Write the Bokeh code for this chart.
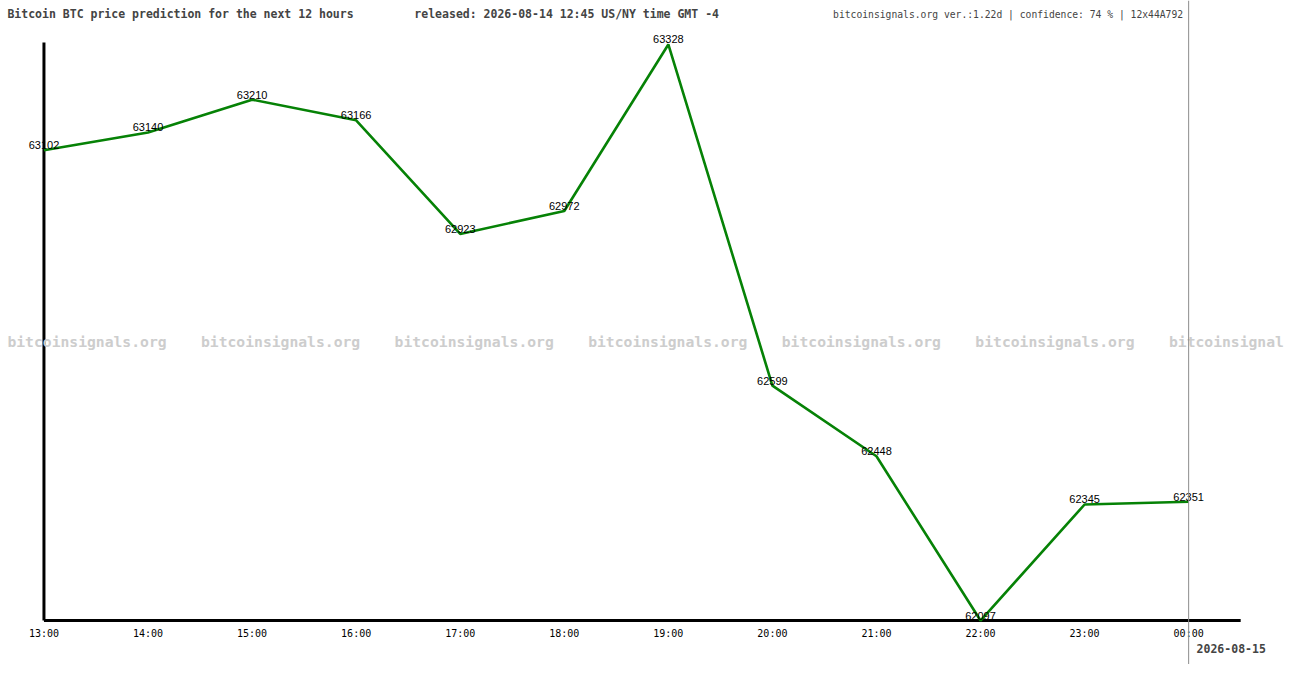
from bokeh.plotting import figure
from bokeh.models import Range1d, Label, Span, ColumnDataSource
from bokeh.core.properties import value
from bokeh.embed import file_html
from bokeh.resources import INLINE

# ---- data ----
hours = ["13:00", "14:00", "15:00", "16:00", "17:00", "18:00",
         "19:00", "20:00", "21:00", "22:00", "23:00", "00:00"]
prices = [63102, 63140, 63210, 63166, 62923, 62972,
          63328, 62599, 62448, 62097, 62345, 62351]
title_left = "Bitcoin BTC price prediction for the next 12 hours"
title_mid = "released: 2026-08-14 12:45 US/NY time GMT -4"
title_right = "bitcoinsignals.org ver.:1.22d | confidence: 74 % | 12x44A792"
next_day = "2026-08-15"
watermark = "bitcoinsignals.org"

W, H = 1284, 664
SX, SY = W / 1300.0, H / 680.0
xs = list(range(len(hours)))
px_per_hour = 105.36 * SX
x0_px = 44.0 * SX
ymax, ymin = max(prices), min(prices)
y_top_px, y_bot_px = 45.0 * SY, 635.0 * SY
upp = (ymax - ymin) / (y_bot_px - y_top_px)

p = figure(width=W, height=H, output_backend="svg", toolbar_location=None,
           x_axis_type=None, y_axis_type=None, min_border=0,
           x_range=Range1d(-x0_px / px_per_hour, (W - x0_px) / px_per_hour),
           y_range=Range1d(ymin - (H - y_bot_px) * upp, ymax + y_top_px * upp))
p.grid.visible = False
p.outline_line_color = None
p.background_fill_color = "white"
p.border_fill_color = "white"

MONO = "DejaVu Sans Mono"


def sx(v):
    return v * SX


def sy(v):
    return H - v * SY


# watermarks
for i in range(7):
    p.add_layout(Label(x=sx(7 + 196 * i), y=sy(349), x_units="screen", y_units="screen",
                       text=watermark, text_font=MONO, text_font_style="bold",
                       text_font_size="14.7px", text_color="#cdcdcd",
                       text_baseline="middle", text_align="left"))

# gray vertical line at last hour
p.add_layout(Span(location=xs[-1], dimension="height", line_color="#8c8c8c", line_width=1))

# axes lines
p.segment(x0=[0, 0], y0=[ymin, ymin], x1=[0, 11.5], y1=[ymax + 4, ymin],
          line_color="black", line_width=3)

# price line
src = ColumnDataSource(dict(x=xs, y=prices, lab=[str(v) for v in prices]))
p.line("x", "y", source=src, line_color="#068206", line_width=2.6)

# value labels
p.text("x", "y", text="lab", source=src, text_font=value("Liberation Sans"),
       text_font_size="11px", text_color="black", text_align="center",
       text_baseline="alphabetic", y_offset=-5)

# hour tick labels
tsrc = ColumnDataSource(dict(x=xs, y=[ymin] * len(xs), h=hours))
p.text("x", "y", text="h", source=tsrc, text_font=value(MONO), text_font_size="10px",
       text_color="black", text_align="center", text_baseline="middle", y_offset=13)

# header texts
p.add_layout(Label(x=sx(7), y=sy(14), x_units="screen", y_units="screen", text=title_left,
                   text_font=MONO, text_font_style="bold", text_font_size="11.5px",
                   text_baseline="middle"))
p.add_layout(Label(x=sx(419), y=sy(14), x_units="screen", y_units="screen", text=title_mid,
                   text_font=MONO, text_font_style="bold", text_font_size="11.5px",
                   text_baseline="middle"))
p.add_layout(Label(x=sx(843), y=sy(14), x_units="screen", y_units="screen", text=title_right,
                   text_font=MONO, text_font_size="9.7px", text_baseline="middle"))
p.add_layout(Label(x=sx(1211), y=sy(664), x_units="screen", y_units="screen", text=next_day,
                   text_font=MONO, text_font_style="bold", text_font_size="11.5px",
                   text_baseline="middle"))

open("out.html", "w").write(file_html(p, INLINE))
